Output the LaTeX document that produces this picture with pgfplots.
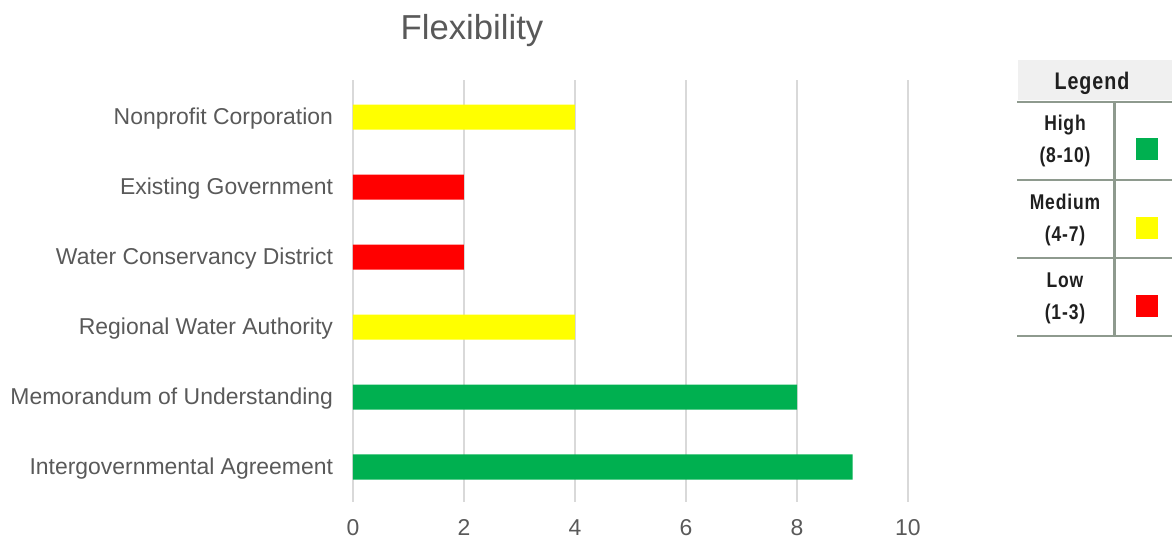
\documentclass[border=0pt]{standalone}
\usepackage{pgfplots}
\pgfplotsset{compat=1.18}
\usepackage{fontspec}
\setmainfont{Liberation Sans}
\newfontfamily\legfont[FakeStretch=0.82,LetterSpace=4]{Liberation Sans}
\definecolor{txt}{HTML}{595959}
\definecolor{gridc}{HTML}{D9D9D9}
\definecolor{hi}{HTML}{00B050}
\definecolor{med}{HTML}{FFFF00}
\definecolor{lo}{HTML}{FF0000}
\definecolor{legline}{HTML}{8E9A8E}
\definecolor{leghead}{HTML}{F0F0F0}
\begin{document}
\begin{tikzpicture}[x=0.75pt,y=0.75pt]
\useasboundingbox (0,0) rectangle (1172,541);
\begin{axis}[
  at={(353*0.75pt,39*0.75pt)}, anchor=south west,
  scale only axis, width=416.25pt, height=316.5pt,
  xmin=0, xmax=10, ymin=-0.5, ymax=5.53,
  xtick={0,2,...,10}, ytick={0,...,5},
  yticklabels={Intergovernmental Agreement,Memorandum of Understanding,Regional Water Authority,Water Conservancy District,Existing Government,Nonprofit Corporation},
  axis line style={draw=none},
  major tick length=0pt,
  xmajorgrids, grid style={gridc, line width=1pt},
  tick label style={text=txt},
  yticklabel style={font=\fontsize{17.2}{20}\selectfont, anchor=east, xshift=-11.5pt, yshift=-1pt},
  xticklabel style={font=\fontsize{17.2}{20}\selectfont, anchor=center, yshift=-19.5pt, inner sep=0pt},
  /pgf/number format/assume math mode=true,
  xbar, bar width=18.75pt, bar shift=0pt,
  clip=false,
]
\addplot[draw=none, fill=hi] coordinates {(9,0) (8,1)};
\addplot[draw=none, fill=med] coordinates {(4,2) (4,5)};
\addplot[draw=none, fill=lo] coordinates {(2,3) (2,4)};
\end{axis}
\node[text=txt, font=\fontsize{26}{30}\selectfont] at (472,510) {Flexibility};
% legend table
\fill[leghead] (1018,441) rectangle (1172,481);
\node[font=\legfont\bfseries\fontsize{18}{21}\selectfont, text=black!88] at (1092,458) {Legend};
\foreach \yy in {439,361,283,205} {\draw[legline, line width=1.6pt] (1017,\yy) -- (1172,\yy);}
\draw[legline, line width=1.6pt] (1114.5,439) -- (1114.5,205);
\node[font=\legfont\bfseries\fontsize{16}{19}\selectfont, text=black!88, align=center] at (1065,400) {High\\[5pt](8-10)};
\node[font=\legfont\bfseries\fontsize{16}{19}\selectfont, text=black!88, align=center] at (1065,321) {Medium\\[5pt](4-7)};
\node[font=\legfont\bfseries\fontsize{16}{19}\selectfont, text=black!88, align=center] at (1065,243) {Low\\[5pt](1-3)};
\fill[hi] (1136,381) rectangle (1158,403);
\fill[med] (1136,302) rectangle (1158,324);
\fill[lo] (1136,224) rectangle (1158,246);
\end{tikzpicture}
\end{document}
